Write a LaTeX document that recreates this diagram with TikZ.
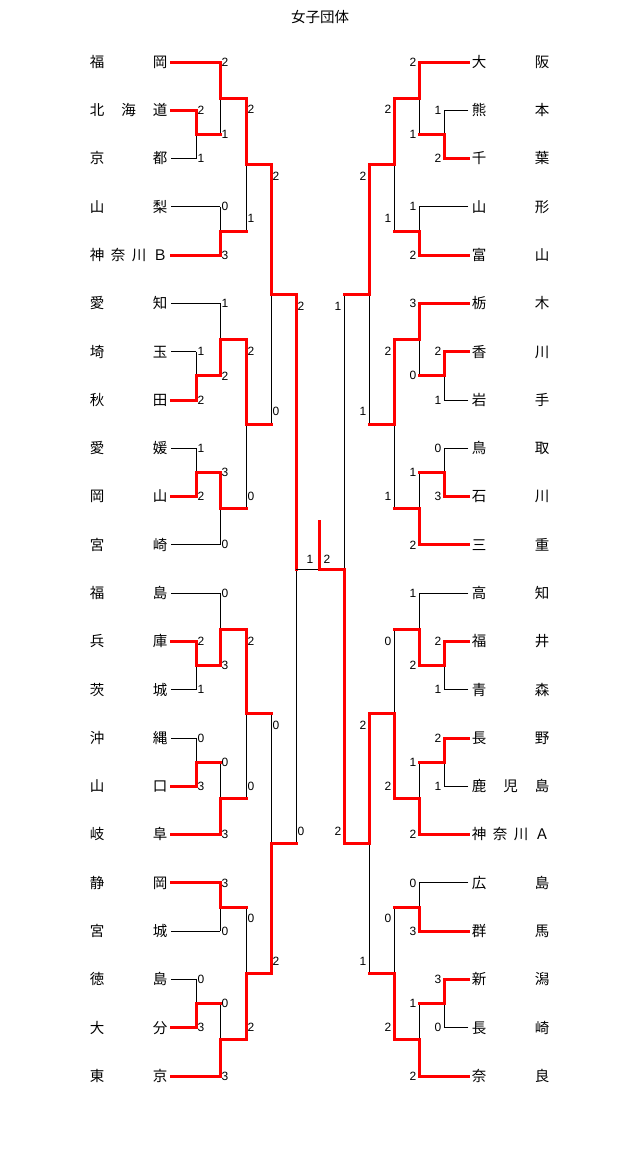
\documentclass[tikz,border=0pt]{standalone}
\usepackage{fontspec}
\newfontfamily\cjkf{Noto Sans CJK JP}
\newfontfamily\digf{Liberation Sans}
\usetikzlibrary{calc}
\pgfdeclarelayer{bg}
\pgfsetlayers{bg,main}
\tikzset{
  bl/.style={draw=black, line width=1pt},
  rd/.style={draw=red, line width=3pt, line cap=rect},
  win/.style={draw=red, line width=3pt, line cap=rect, line join=miter},
  labbase/.style={font=\digf\fontsize{12}{13}\selectfont, inner sep=0pt},
  lab/.style={labbase, anchor=west, xshift=1.5pt},
  nm/.style={font=\cjkf\fontsize{14.5}{16}\selectfont, inner sep=0pt, anchor=base},
}
\newcommand{\tname}[5]{%
  \foreach \c [count=\n] in {#5}{\xdef\nitems{\n}}%
  \foreach \c [count=\n] in {#5}{%
    \pgfmathsetmacro\xx{#2+(\n-1)*(#3-#2)/(\nitems-1)}%
    \pgfmathsetmacro\yy{62+48.286*#4+5.4}%
    \node[nm] (#1-\n) at (\xx,\yy) {\c};}%
}
\newcommand{\bmcore}[9]{%
  \coordinate (#1-a) at (#4 |- #2);
  \coordinate (#1-b) at (#4 |- #3);
  \coordinate (#1) at ($(#1-a)!0.5!(#1-b)$);
  \begin{pgfonlayer}{bg}
    \draw[bl] (#1-a) -- (#1-b);
    \draw[bl] (#2) -- (#1-a);
    \draw[bl] (#3) -- (#1-b);
  \end{pgfonlayer}
  \draw[#7] (#2) -- (#1-a);
  \draw[#8] (#3) -- (#1-b);
  \ifnum#9=1\relax
    \draw[win] (#2) -- (#1-a) -- (#1);
  \else
    \draw[win] (#3) -- (#1-b) -- (#1);
  \fi
}
\newcommand{\bmA}[9]{\bmcore{#1}{#2}{#3}{#4}{#5}{#6}{#7}{#8}{#9}%
  \node[lab] (#1-s1) at (#1-a) {#5};
  \node[lab] (#1-s2) at (#1-b) {#6};}
\newcommand{\bmB}[9]{\bmcore{#1}{#2}{#3}{#4}{#5}{#6}{#7}{#8}{#9}%
  \node[lab, yshift=-11.5pt] (#1-s1) at (#1-a) {#5};
  \node[lab, yshift=12.5pt] (#1-s2) at (#1-b) {#6};}
\begin{document}
\begin{tikzpicture}[x=1pt,y=-1pt]
\begin{pgfonlayer}{bg}
  \fill[white] (0,0) rectangle (640,1157);
\end{pgfonlayer}
\useasboundingbox (0,0) rectangle (640,1157);
\node[font=\cjkf\fontsize{14.5}{16}\selectfont, inner sep=0pt, anchor=base] (title) at (320,22.7) {女子団体};
% team anchor points
\foreach \i in {0,...,21}{%
  \pgfmathsetmacro\yy{62+48.286*\i}%
  \coordinate (tL\i) at (171,\yy);
  \coordinate (tR\i) at (468,\yy);
}
\coordinate (LA) at (196,0); \coordinate (LB) at (220,0); \coordinate (LC) at (246,0);
\coordinate (LD) at (271,0); \coordinate (LE) at (296,0);
\coordinate (RA) at (444,0); \coordinate (RB) at (419,0); \coordinate (RC) at (394,0);
\coordinate (RD) at (369,0); \coordinate (RE) at (344,0);
% left names
\tname{nL0}{97}{160}{0}{福,岡}
\tname{nL1}{97}{160}{1}{北,海,道}
\tname{nL2}{97}{160}{2}{京,都}
\tname{nL3}{97}{160}{3}{山,梨}
\tname{nL4}{97}{160}{4}{神,奈,川,Ｂ}
\tname{nL5}{97}{160}{5}{愛,知}
\tname{nL6}{97}{160}{6}{埼,玉}
\tname{nL7}{97}{160}{7}{秋,田}
\tname{nL8}{97}{160}{8}{愛,媛}
\tname{nL9}{97}{160}{9}{岡,山}
\tname{nL10}{97}{160}{10}{宮,崎}
\tname{nL11}{97}{160}{11}{福,島}
\tname{nL12}{97}{160}{12}{兵,庫}
\tname{nL13}{97}{160}{13}{茨,城}
\tname{nL14}{97}{160}{14}{沖,縄}
\tname{nL15}{97}{160}{15}{山,口}
\tname{nL16}{97}{160}{16}{岐,阜}
\tname{nL17}{97}{160}{17}{静,岡}
\tname{nL18}{97}{160}{18}{宮,城}
\tname{nL19}{97}{160}{19}{徳,島}
\tname{nL20}{97}{160}{20}{大,分}
\tname{nL21}{97}{160}{21}{東,京}
% right names
\tname{nR0}{479}{542}{0}{大,阪}
\tname{nR1}{479}{542}{1}{熊,本}
\tname{nR2}{479}{542}{2}{千,葉}
\tname{nR3}{479}{542}{3}{山,形}
\tname{nR4}{479}{542}{4}{富,山}
\tname{nR5}{479}{542}{5}{栃,木}
\tname{nR6}{479}{542}{6}{香,川}
\tname{nR7}{479}{542}{7}{岩,手}
\tname{nR8}{479}{542}{8}{鳥,取}
\tname{nR9}{479}{542}{9}{石,川}
\tname{nR10}{479}{542}{10}{三,重}
\tname{nR11}{479}{542}{11}{高,知}
\tname{nR12}{479}{542}{12}{福,井}
\tname{nR13}{479}{542}{13}{青,森}
\tname{nR14}{479}{542}{14}{長,野}
\tname{nR15}{479}{542}{15}{鹿,児,島}
\tname{nR16}{479}{542}{16}{神,奈,川,Ａ}
\tname{nR17}{479}{542}{17}{広,島}
\tname{nR18}{479}{542}{18}{群,馬}
\tname{nR19}{479}{542}{19}{新,潟}
\tname{nR20}{479}{542}{20}{長,崎}
\tname{nR21}{479}{542}{21}{奈,良}
% left bracket
\bmA{m1}{tL1}{tL2}{LA}{2}{1}{bl}{bl}{1}
\bmA{m2}{tL0}{m1}{LB}{2}{1}{bl}{rd}{1}
\bmA{m3}{tL3}{tL4}{LB}{0}{3}{bl}{bl}{2}
\bmB{m4}{m2}{m3}{LC}{2}{1}{rd}{rd}{1}
\bmA{m5}{tL6}{tL7}{LA}{1}{2}{bl}{bl}{2}
\bmA{m6}{tL5}{m5}{LB}{1}{2}{bl}{rd}{2}
\bmA{m7}{tL8}{tL9}{LA}{1}{2}{bl}{bl}{2}
\bmA{m8}{m7}{tL10}{LB}{3}{0}{rd}{bl}{1}
\bmB{m9}{m6}{m8}{LC}{2}{0}{rd}{rd}{1}
\bmB{m10}{m4}{m9}{LD}{2}{0}{rd}{rd}{1}
\bmA{m11}{tL12}{tL13}{LA}{2}{1}{bl}{bl}{1}
\bmA{m12}{tL11}{m11}{LB}{0}{3}{bl}{rd}{2}
\bmA{m13}{tL14}{tL15}{LA}{0}{3}{bl}{bl}{2}
\bmA{m14}{m13}{tL16}{LB}{0}{3}{rd}{bl}{2}
\bmB{m15}{m12}{m14}{LC}{2}{0}{rd}{rd}{1}
\bmA{m16}{tL17}{tL18}{LB}{3}{0}{bl}{bl}{1}
\bmA{m17}{tL19}{tL20}{LA}{0}{3}{bl}{bl}{2}
\bmA{m18}{m17}{tL21}{LB}{0}{3}{rd}{bl}{2}
\bmB{m19}{m16}{m18}{LC}{0}{2}{rd}{rd}{2}
\bmB{m20}{m15}{m19}{LD}{0}{2}{rd}{rd}{2}
\bmB{m21}{m10}{m20}{LE}{2}{0}{rd}{rd}{1}
% right bracket
\tikzset{lab/.style={labbase, anchor=east, xshift=-2.5pt}}
\bmA{r1}{tR1}{tR2}{RA}{1}{2}{bl}{bl}{2}
\bmA{r2}{tR0}{r1}{RB}{2}{1}{bl}{rd}{1}
\bmA{r3}{tR3}{tR4}{RB}{1}{2}{bl}{bl}{2}
\bmB{r4}{r2}{r3}{RC}{2}{1}{rd}{rd}{1}
\bmA{r5}{tR6}{tR7}{RA}{2}{1}{bl}{bl}{1}
\bmA{r6}{tR5}{r5}{RB}{3}{0}{bl}{rd}{1}
\bmA{r7}{tR8}{tR9}{RA}{0}{3}{bl}{bl}{2}
\bmA{r8}{r7}{tR10}{RB}{1}{2}{rd}{bl}{2}
\bmB{r9}{r6}{r8}{RC}{2}{1}{rd}{rd}{1}
\bmB{r10}{r4}{r9}{RD}{2}{1}{rd}{rd}{1}
\bmA{r11}{tR12}{tR13}{RA}{2}{1}{bl}{bl}{1}
\bmA{r12}{tR11}{r11}{RB}{1}{2}{bl}{rd}{2}
\bmA{r13}{tR14}{tR15}{RA}{2}{1}{bl}{bl}{1}
\bmA{r14}{r13}{tR16}{RB}{1}{2}{rd}{bl}{2}
\bmB{r15}{r12}{r14}{RC}{0}{2}{rd}{rd}{2}
\bmA{r16}{tR17}{tR18}{RB}{0}{3}{bl}{bl}{2}
\bmA{r17}{tR19}{tR20}{RA}{3}{0}{bl}{bl}{1}
\bmA{r18}{r17}{tR21}{RB}{1}{2}{rd}{bl}{2}
\bmB{r19}{r16}{r18}{RC}{0}{2}{rd}{rd}{2}
\bmB{r20}{r15}{r19}{RD}{2}{1}{rd}{rd}{1}
\bmB{r21}{r10}{r20}{RE}{1}{2}{rd}{rd}{2}
% final
\coordinate (fx) at (319,0);
\coordinate (fc) at (fx |- m21);
\coordinate (ftop) at (319,521);
\draw[bl] (m21) -- (r21);
\draw[win] (r21) -- (fc) -- (ftop);
\node[labbase] (f1) at (310,559) {1};
\node[labbase] (f2) at (327,559) {2};
\end{tikzpicture}
\end{document}
